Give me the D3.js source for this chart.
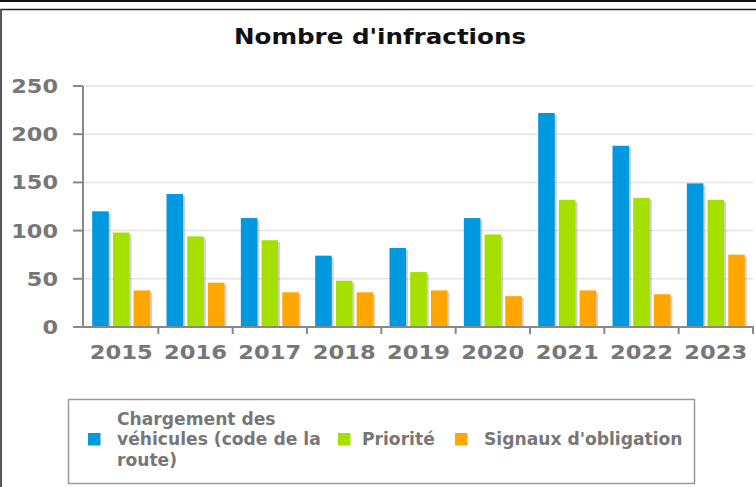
<!DOCTYPE html>
<html><head><meta charset="utf-8">
<script src="https://cdn.jsdelivr.net/npm/d3@7"></script>
<style>body{margin:0;background:#fff}svg{display:block}</style>
</head><body>
<svg id="c" width="756" height="487"></svg>
<script>
const years = ["2015","2016","2017","2018","2019","2020","2021","2022","2023"];
const seriesNames = ["Chargement des véhicules (code de la route)", "Priorité", "Signaux d'obligation"];
const chargement = [120, 138, 113, 74, 82, 113, 222, 188, 149];
const priorite = [98, 94, 90, 48, 57, 96, 132, 134, 132];
const signaux = [38, 46, 36, 36, 38, 32, 38, 34, 75];
const yTicks = [0, 50, 100, 150, 200, 250];
const colors = ["#0098de", "#a6e000", "#ffa700"];
const chartTitle = "Nombre d'infractions";

(function(){
const svg = d3.select("#c");
const seriesValues = [chargement, priorite, signaux];

// frame
svg.append("line").attr("x1",0).attr("x2",756).attr("y1",1).attr("y2",1).attr("stroke","#111").attr("stroke-width",2);
svg.append("rect").attr("x",1).attr("y",9.5).attr("width",800).attr("height",500).attr("fill","none").attr("stroke","#222").attr("stroke-width",1.5);

const pLeft = 84, pRight = 753, pTop = 86, pBottom = 327;
const y = d3.scaleLinear().domain([0,250]).range([pBottom, pTop]);
const x0 = d3.scaleBand().domain(years).range([pLeft, pRight]).paddingInner(0.22).paddingOuter(0.11);
const x1 = d3.scaleBand().domain(d3.range(3)).range([0, x0.bandwidth()]).paddingInner(0.2);
const step = x0.step();
const boundary = d => x0(d) - x0.paddingOuter()*step;

function stretch(sel, k){
  sel.each(function(){ const w=this.getComputedTextLength(); this.setAttribute("textLength", w*k); this.setAttribute("lengthAdjust","spacingAndGlyphs"); });
}

// title
svg.append("text").attr("x",380).attr("y",44).attr("text-anchor","middle")
  .attr("font-family","DejaVu Sans").attr("font-weight","bold").attr("font-size",21).attr("fill","#111")
  .text(chartTitle).call(stretch,1.17);

// grid
svg.append("g").selectAll("line").data(yTicks.filter(d=>d>0)).join("line")
  .attr("x1",pLeft).attr("x2",pRight).attr("y1",d=>y(d)).attr("y2",d=>y(d))
  .attr("stroke","#e4e4e4").attr("stroke-width",1.5);

// bars
const g = svg.append("g");
years.forEach((yr,i)=>{
  seriesValues.forEach((vals,s)=>{
    const bx = x0(yr)+x1(s), by = y(vals[i]), bw = x1.bandwidth(), bh = pBottom - y(vals[i]);
    g.append("rect").attr("x",bx+2).attr("y",by+2).attr("width",bw).attr("height",bh-2).attr("fill","#999").attr("opacity",0.45);
    g.append("rect").attr("x",bx).attr("y",by).attr("width",bw).attr("height",bh).attr("fill",colors[s]);
  });
});

// axes
const ax = svg.append("g").attr("stroke","#888").attr("stroke-width",2);
ax.append("line").attr("x1",83).attr("x2",83).attr("y1",y(250)).attr("y2",pBottom+1);
ax.selectAll(".yt").data(yTicks).join("line").attr("x1",73).attr("x2",83).attr("y1",d=>y(d)).attr("y2",d=>y(d));
ax.append("line").attr("x1",73).attr("x2",pRight+1).attr("y1",pBottom).attr("y2",pBottom);
ax.selectAll(".xt").data(years.slice(1).map(boundary).concat([pRight])).join("line")
  .attr("x1",d=>d).attr("x2",d=>d).attr("y1",pBottom).attr("y2",pBottom+7);

svg.append("g").selectAll("text").data(yTicks).join("text")
  .attr("x",58).attr("y",d=>y(d)+7).attr("text-anchor","end")
  .attr("font-family","DejaVu Sans").attr("font-weight","bold").attr("font-size",20).attr("fill","#777")
  .text(d=>d).call(stretch,1.12);
svg.append("g").selectAll("text").data(years).join("text")
  .attr("x",d=>x0(d)+x0.bandwidth()/2).attr("y",359).attr("text-anchor","middle")
  .attr("font-family","DejaVu Sans").attr("font-weight","bold").attr("font-size",20).attr("fill","#777")
  .text(d=>d).call(stretch,1.13);

// legend
svg.append("rect").attr("x",68.5).attr("y",399.5).attr("width",626).attr("height",84).attr("fill","#fff").attr("stroke","#999").attr("stroke-width",1.5);
const lf = t => t.attr("font-family","DejaVu Sans Condensed, DejaVu Sans").attr("font-stretch","condensed").attr("font-weight","bold").attr("font-size",17).attr("fill","#777");
const legendItems = [
  {sx:88, tx:117, lines:["Chargement des","véhicules (code de la","route)"]},
  {sx:338, tx:362, lines:["Priorité"]},
  {sx:455, tx:484, lines:["Signaux d'obligation"]}
];
legendItems.forEach((it,s)=>{
  svg.append("rect").attr("x",it.sx).attr("y",433).attr("width",12.5).attr("height",12.5).attr("fill",colors[s]);
  const n = it.lines.length;
  it.lines.forEach((ln,k)=>{
    svg.append("text").attr("x",it.tx).attr("y",445 + (k-(n-1)/2)*20.5).text(ln).call(lf).call(stretch,1.12);
  });
});
})();
</script>
</body></html>
